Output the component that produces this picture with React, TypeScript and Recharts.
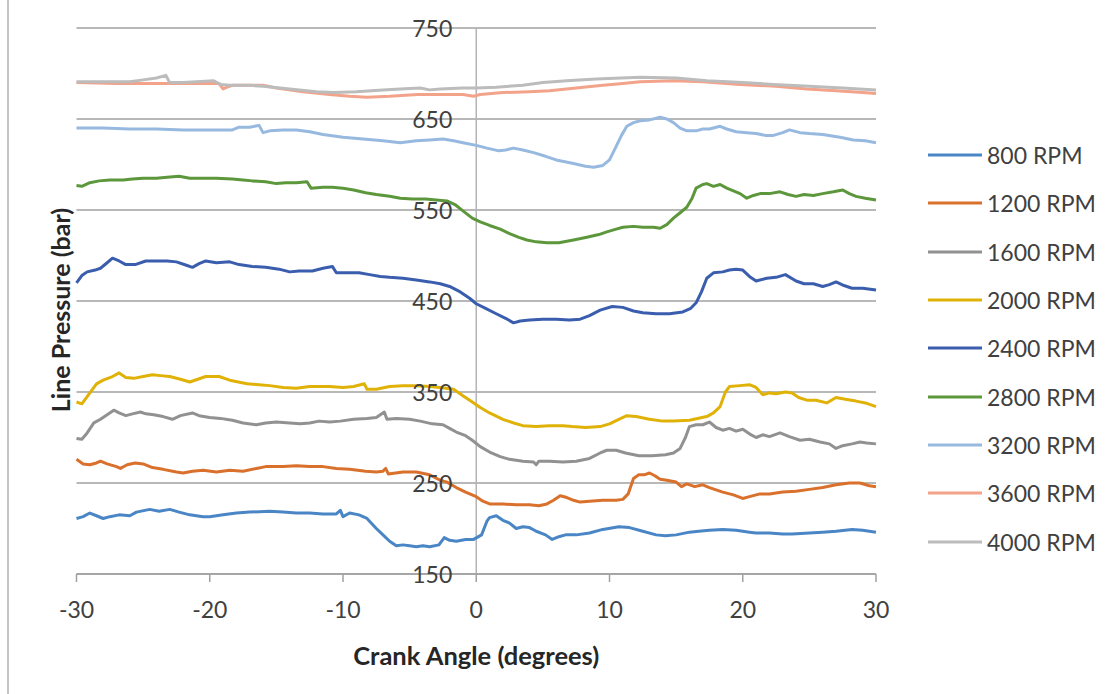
import React from 'react';
import { LineChart, Line, XAxis, YAxis, CartesianGrid, ReferenceLine, Legend } from 'recharts';

// ---- data: [crank angle (deg), line pressure (bar)] ----
const rpm800: [number, number][] = [[-30,211],[-29.5,213],[-29,217],[-28.5,214],[-28,211],[-27.5,213],[-26.8,215],[-26,214],[-25.5,218],[-24.5,221],[-23.8,219],[-23,221],[-22.3,218],[-21.5,215],[-20.5,213],[-20,213],[-19,215],[-18,217],[-17,218],[-15.5,219],[-14.5,218],[-13.5,217],[-12.5,217],[-11.5,216],[-10.5,216],[-10.2,220],[-10,213],[-9.5,217],[-8.8,215],[-8.2,211],[-7.5,200],[-7,193],[-6.5,186],[-6,181],[-5.5,182],[-5,181],[-4.5,180],[-4,181],[-3.5,180],[-2.8,182],[-2.4,190],[-2,187],[-1.5,186],[-0.8,188],[-0.2,188],[0.4,193],[0.8,208],[1,212],[1.5,214],[2,209],[2.5,206],[3,200],[3.5,202],[4,201],[4.5,197],[5.2,193],[5.7,188],[6.2,191],[6.7,193],[7.5,193],[8.5,195],[9.5,199],[10.7,202],[11.5,201],[12.5,197],[13.5,193],[14.2,192],[15,193],[16,196],[16.7,197],[17.5,198],[18.5,199],[19.5,198],[20.5,196],[21,195],[22,195],[23,194],[23.7,194],[25,195],[26,196],[27,197],[28.2,199],[29,198],[30,196]];
const rpm1200: [number, number][] = [[-30,276],[-29.5,271],[-29,270],[-28.5,272],[-28.2,274],[-27.7,271],[-27,268],[-26.7,266],[-26.2,270],[-25.6,272],[-25,271],[-24.3,267],[-23.5,265],[-22.5,262],[-22,261],[-21.3,263],[-20.5,264],[-19.5,262],[-18.5,264],[-17.5,263],[-16.5,266],[-15.8,268],[-14.5,268],[-13.5,269],[-12.5,268],[-11.5,268],[-10.5,266],[-9.5,265],[-8.3,263],[-7.5,262],[-7,263],[-6.8,266],[-6.6,260],[-5.5,262],[-4.5,262],[-3.5,259],[-2.7,253],[-2.2,251],[-1.5,245],[-0.8,240],[0,235],[0.5,230],[1,227],[2,227],[3,226],[4,226],[4.7,225],[5.3,227],[5.8,231],[6.3,236],[6.8,234],[7.3,231],[7.8,229],[8.5,230],[9.5,231],[10.5,231],[11,232],[11.4,238],[11.8,255],[12.2,259],[12.6,259],[13,261],[13.4,258],[13.8,254],[14.3,253],[15,251],[15.4,246],[15.8,249],[16.4,246],[17,248],[17.5,245],[18.5,240],[19.3,237],[20,233],[20.5,235],[21.3,238],[22,238],[23,240],[24,241],[25,243],[26,245],[27,248],[28,250],[28.8,250],[29.5,247],[30,246]];
const rpm1600: [number, number][] = [[-30,299],[-29.6,298],[-29.2,305],[-28.7,316],[-28.2,320],[-27.7,325],[-27.2,330],[-26.8,327],[-26.3,324],[-25.8,326],[-25.2,328],[-24.8,326],[-24.2,325],[-23.5,323],[-22.8,320],[-22.2,324],[-21.3,327],[-20.8,324],[-20,322],[-19.2,321],[-18.3,319],[-17.5,316],[-16.5,314],[-15.8,316],[-15,317],[-14,316],[-13.2,315],[-12.5,316],[-11.8,318],[-11,317],[-10.2,318],[-9.2,320],[-8.2,321],[-7.5,322],[-6.9,328],[-6.7,320],[-6,321],[-5,320],[-4.2,318],[-3.3,315],[-2.5,314],[-2,310],[-1.5,306],[-0.8,302],[-0.3,297],[0.3,290],[1,284],[1.8,279],[2.5,276],[3.5,274],[4.3,273],[4.5,270],[4.7,274],[5.5,274],[6.5,273],[7.5,274],[8.5,277],[9.3,283],[9.8,286],[10.5,286],[11.2,283],[12.2,280],[13.2,280],[14.2,281],[14.8,283],[15.3,288],[15.7,300],[16,312],[16.5,314],[17,314],[17.5,317],[18,311],[18.5,308],[19,310],[19.5,307],[20,309],[20.5,304],[21,300],[21.5,303],[22,301],[22.8,305],[23.5,301],[24.3,297],[25,298],[25.8,295],[26.5,293],[27,288],[27.5,291],[28.2,293],[28.8,295],[29.3,294],[30,293]];
const rpm2000: [number, number][] = [[-30,339],[-29.6,337],[-29.2,345],[-28.5,359],[-28,363],[-27.3,367],[-26.8,371],[-26.3,366],[-25.7,365],[-25,367],[-24.3,369],[-23.7,368],[-23,367],[-22.2,364],[-21.5,361],[-20.9,364],[-20.3,367],[-19.3,367],[-18.5,363],[-17.2,359],[-16.3,358],[-15.5,357],[-14.5,355],[-13.5,354],[-12.5,356],[-11.5,356],[-11,356],[-10,355],[-9.2,356],[-8.4,359],[-8.2,353],[-7.5,353],[-6.5,356],[-5.5,357],[-4.5,357],[-3.5,356],[-2.7,355],[-1.7,353],[-1,346],[-0.3,339],[0.3,333],[1,327],[2,320],[2.8,316],[3.5,313],[4.5,312],[5.5,313],[6.5,313],[7.2,312],[8.2,311],[9.3,312],[10,315],[10.7,320],[11.3,324],[12,323],[13,320],[14,318],[14.8,318],[16,319],[17.3,323],[17.8,327],[18.3,334],[18.7,350],[19,356],[19.8,357],[20.5,358],[21,355],[21.5,347],[22,349],[22.5,348],[23.2,350],[23.7,349],[24.2,344],[24.8,341],[25.5,341],[26.3,338],[27,344],[27.7,342],[28.5,340],[29.2,338],[30,334]];
const rpm2400: [number, number][] = [[-30,470],[-29.6,478],[-29.2,482],[-28.6,484],[-28.2,486],[-27.7,492],[-27.3,497],[-26.8,494],[-26.3,490],[-25.6,490],[-24.8,494],[-24,494],[-23.2,494],[-22.5,493],[-21.7,489],[-21.3,487],[-20.8,491],[-20.3,494],[-19.5,492],[-18.5,493],[-17.8,490],[-16.8,488],[-15.8,487],[-14.8,485],[-14,482],[-13.3,483],[-12.3,483],[-11.5,486],[-10.8,488],[-10.5,481],[-9.8,481],[-8.8,481],[-8,479],[-7.2,477],[-6.5,476],[-5.5,475],[-4.5,473],[-3.5,471],[-2.7,469],[-2,466],[-1.2,460],[-0.5,453],[0,447],[0.7,442],[1.5,436],[2.2,431],[2.8,426],[3.3,428],[4,429],[5,430],[6,430],[7,429],[7.8,430],[8.5,434],[9.3,440],[10.2,444],[11,443],[11.8,439],[12.5,437],[13.5,436],[14.5,436],[15.5,438],[16.1,442],[16.5,448],[16.9,460],[17.3,475],[17.8,481],[18.5,482],[19,484],[19.5,485],[20,484],[20.5,477],[21,472],[21.8,475],[22.5,476],[23.2,479],[24,472],[24.6,469],[25.3,469],[26,466],[26.5,468],[27,471],[27.6,467],[28.2,464],[29,464],[30,462]];
const rpm2800: [number, number][] = [[-30,577],[-29.6,576],[-29,580],[-28.3,582],[-27.5,583],[-26.5,583],[-25.8,584],[-25,585],[-24,585],[-23.2,586],[-22.3,587],[-21.5,585],[-20.5,585],[-19.5,585],[-18.3,584],[-17.5,583],[-16.8,582],[-15.8,581],[-15,579],[-14.3,580],[-13.5,580],[-12.7,581],[-12.4,574],[-11.5,575],[-10.8,575],[-10,574],[-9.2,572],[-8.3,569],[-7.5,567],[-6.5,565],[-5.7,563],[-4.8,562],[-3.8,562],[-3,561],[-2.2,560],[-1.6,556],[-1,549],[-0.3,541],[0.3,537],[1,533],[1.8,529],[2.5,524],[3.2,520],[3.8,517],[4.5,515],[5.3,514],[6.2,514],[7.3,517],[8.3,520],[9.2,523],[9.8,526],[10.5,529],[11,531],[11.8,532],[12.5,531],[13.3,531],[13.8,530],[14.3,534],[14.8,541],[15.3,547],[15.8,553],[16.2,563],[16.5,574],[17,578],[17.3,579],[17.8,576],[18.3,578],[18.8,574],[19.3,571],[19.8,568],[20.3,563],[20.8,566],[21.3,568],[22,568],[22.8,570],[23.4,567],[24,565],[24.6,567],[25.3,566],[26,568],[26.8,570],[27.5,572],[28,568],[28.5,565],[29.2,563],[30,561]];
const rpm3200: [number, number][] = [[-30,640],[-28,640],[-26,639],[-24,639],[-22,638],[-20,638],[-18.3,638],[-17.8,641],[-17,641],[-16.3,643],[-16,635],[-15.5,637],[-14.5,638],[-13.5,638],[-12.5,636],[-11.5,633],[-10,630],[-8.5,628],[-7,626],[-5.7,624],[-4.5,626],[-3.5,627],[-2.5,628],[-1.7,626],[-1,624],[0,621],[0.8,618],[1.7,615],[2.2,616],[2.8,618],[3.5,616],[4.3,613],[5.2,609],[6,605],[7.3,601],[8.2,598],[8.8,597],[9.5,599],[10,605],[10.5,620],[10.9,632],[11.3,642],[11.8,646],[12.3,648],[13,649],[13.8,652],[14.3,650],[14.8,646],[15.3,640],[15.8,637],[16.5,637],[17,639],[17.5,639],[18.3,642],[18.8,639],[19.5,636],[20.3,635],[21,634],[21.7,632],[22.3,632],[23,635],[23.5,638],[24.3,635],[25,634],[26,633],[27.3,630],[28.3,627],[29.2,626],[30,624]];
const rpm3600: [number, number][] = [[-30,690],[-27,689],[-24,689],[-22,689],[-20,689],[-19.3,689],[-19,683],[-18.7,685],[-18.3,687],[-17,687],[-16,687],[-15,684],[-13,680],[-11,677],[-9.5,675],[-8.2,674],[-6.5,675],[-4.4,677],[-2.7,677],[-1,677],[-0.2,675],[0.3,677],[2,679],[4,680],[5.5,681],[7.5,684],[9.5,687],[11,689],[12.3,691],[14.8,692],[17,691],[19.8,688],[22.5,686],[24.8,683],[27,681],[29,679],[30,678]];
const rpm4000: [number, number][] = [[-30,691],[-28,691],[-26,691],[-25,693],[-24,695],[-23.3,698],[-23,690],[-22,690],[-21,691],[-19.7,692],[-19.2,688],[-18.5,687],[-17,687],[-16,686],[-14,683],[-12,680],[-10.7,679],[-9,680],[-7,682],[-5.7,683],[-4.2,684],[-3.5,682],[-2.7,683],[-1,684],[0,684],[1.5,685],[3.5,687],[5,690],[6.8,692],[9,694],[12.3,696],[15,695],[17.3,692],[20,690],[22.3,688],[25,686],[27.5,684],[30,682]];

const seriesNames = ['800 RPM', '1200 RPM', '1600 RPM', '2000 RPM', '2400 RPM', '2800 RPM', '3200 RPM', '3600 RPM', '4000 RPM'];
const seriesData = [rpm800, rpm1200, rpm1600, rpm2000, rpm2400, rpm2800, rpm3200, rpm3600, rpm4000];
const seriesColors = ['#4a86c5', '#d9702b', '#919191', '#e0b208', '#3a5dae', '#5c973b', '#97b9e0', '#f2a38a', '#bcbcbc'];

const xTicks = [-30, -20, -10, 0, 10, 20, 30];
const yTicks = [150, 250, 350, 450, 550, 650, 750];

// ---- layout ----
const W = 1117;
const H = 694;
const Y_AXIS_W = 60;
const M = { top: 28, right: 241, bottom: 20, left: 16.5 };
const PLOT_LEFT = M.left + Y_AXIS_W;
const PLOT_W = W - PLOT_LEFT - M.right;
const ZERO_X = PLOT_LEFT + PLOT_W / 2;
const FONT = 'Lato, "Open Sans", sans-serif';

const YTick = (props: any) => {
  const { y, payload } = props;
  return (
    <text x={ZERO_X - 24} y={y} textAnchor="end" dominantBaseline="central" fontSize={23} fontFamily={FONT} fill="#404040">
      {payload.value}
    </text>
  );
};

const YLabel = (props: any) => {
  const vb = props.viewBox || { x: M.left, y: M.top, width: Y_AXIS_W, height: 546 };
  const cx = vb.x + vb.width - 17;
  const cy = vb.y + vb.height / 2 + 9;
  return (
    <text x={cx} y={cy} transform={`rotate(-90, ${cx}, ${cy})`} textAnchor="middle" dominantBaseline="central" fontSize={25} fontWeight="bold" fontFamily={FONT} fill="#262626">
      Line Pressure (bar)
    </text>
  );
};

const LegendContent = () => (
  <div style={{ fontFamily: FONT, fontSize: 23, color: '#404040' }}>
    {seriesNames.map((name, i) => (
      <div key={name} style={{ height: 48.3, display: 'flex', alignItems: 'center' }}>
        <svg width={54} height={6} style={{ marginRight: 5 }}>
          <line x1={0} y1={3} x2={54} y2={3} stroke={seriesColors[i]} strokeWidth={3} />
        </svg>
        <span style={{ whiteSpace: 'nowrap' }}>{name}</span>
      </div>
    ))}
  </div>
);

export default function App() {
  return (
    <div style={{ position: 'absolute', left: 0, top: 0, width: W, height: H, background: '#fff' }}>
      <div style={{ position: 'absolute', left: 7, top: 0, width: 2, height: H, background: '#c4c4c4' }} />
      <LineChart width={W} height={H} margin={M}>
        <CartesianGrid vertical={false} stroke="#a0a0a0" strokeWidth={1.5} />
        <XAxis
          dataKey="angle"
          type="number"
          domain={[-30, 30]}
          ticks={xTicks}
          allowDuplicatedCategory={false}
          height={100}
          stroke="#a0a0a0"
          strokeWidth={1.5}
          tickSize={8}
          tickMargin={20}
          tick={{ fontSize: 23, fontFamily: FONT, fill: '#404040' }}
          label={{ value: 'Crank Angle (degrees)', position: 'insideBottom', offset: 9, fontSize: 25.5, fontWeight: 'bold', fontFamily: FONT, fill: '#262626' }}
        />
        <YAxis
          type="number"
          domain={[150, 750]}
          ticks={yTicks}
          width={Y_AXIS_W}
          axisLine={false}
          tickLine={false}
          tick={<YTick />}
          label={<YLabel />}
        />
        <ReferenceLine x={0} stroke="#b4b4b4" strokeWidth={1.5} />
        <Legend
          layout="horizontal"
          verticalAlign="middle"
          align="center"
          wrapperStyle={{ left: 928, top: 131, width: 185 }}
          content={<LegendContent />}
        />
        {seriesData.map((s, i) => (
          <Line
            key={seriesNames[i]}
            name={seriesNames[i]}
            data={s.map(([a, v]) => ({ angle: a, value: v }))}
            dataKey="value"
            stroke={seriesColors[i]}
            strokeWidth={3}
            dot={false}
            type="linear"
            isAnimationActive={false}
            strokeLinejoin="round"
          />
        ))}
      </LineChart>
    </div>
  );
}
